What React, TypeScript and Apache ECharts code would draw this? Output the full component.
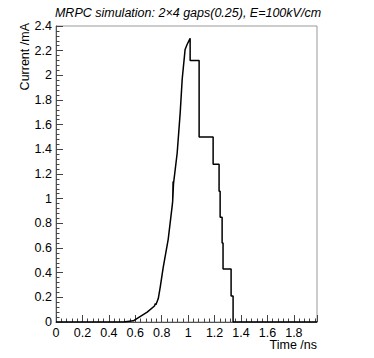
import React, { useEffect, useRef } from "react";
import * as echarts from "echarts";

// Time (ns) and current (mA) of the simulated MRPC signal
const timeNs: number[] = [
  0, 0.51, 0.585, 0.615, 0.69, 0.745, 0.752, 0.756, 0.774, 0.789, 0.811, 0.849, 0.879,
  0.883, 0.886, 0.884, 0.889, 0.917, 0.94, 0.955, 0.977, 0.992, 1.015,
  1.015, 1.083, 1.083, 1.189, 1.189, 1.234, 1.234, 1.242, 1.242, 1.257, 1.257,
  1.264, 1.264, 1.325, 1.325, 1.34, 1.34, 1.975,
];
const currentMA: number[] = [
  0, 0, 0.01, 0.03, 0.08, 0.13, 0.15, 0.14, 0.19, 0.285, 0.44, 0.67, 0.94,
  0.98, 1.14, 1.0, 1.12, 1.37, 1.7, 1.97, 2.21, 2.25, 2.3,
  2.12, 2.12, 1.5, 1.5, 1.28, 1.28, 1.06, 1.06, 0.85, 0.85, 0.64,
  0.64, 0.43, 0.43, 0.21, 0.21, 0, 0,
];

const titleText = "MRPC simulation: 2\u00d74 gaps(0.25), E=100kV/cm";
const xName = "Time /ns";
const yName = "Current /mA";

export default function App() {
  const ref = useRef<HTMLDivElement>(null);
  useEffect(() => {
    if (!ref.current) return;
    document.body.style.margin = "0";
    const chart = echarts.init(ref.current, undefined, { renderer: "svg" });
    const font = "'Liberation Sans', Arial, Helvetica, sans-serif";
    const data = timeNs.map((t, i) => [t, currentMA[i]]);
    chart.setOption({
      animation: false,
      backgroundColor: "#fff",
      grid: {
        left: 56,
        top: 26,
        right: 57,
        bottom: 36,
        containLabel: false,
        show: true,
        borderColor: "#999",
        borderWidth: 1,
        backgroundColor: "transparent",
      },
      xAxis: {
        type: "value",
        min: 0,
        max: 1.975,
        interval: 0.2,
        axisLine: { show: true, onZero: false, lineStyle: { color: "#555", width: 1 } },
        axisTick: { show: true, inside: true, length: 7, lineStyle: { color: "#444" } },
        minorTick: { show: true, splitNumber: 5, length: 3.5, lineStyle: { color: "#444" } },
        splitLine: { show: false },
        axisLabel: {
          margin: 4,
          color: "#000",
          fontSize: 12.5,
          fontFamily: font,
          showMaxLabel: false,
        },
      },
      yAxis: {
        type: "value",
        min: 0,
        max: 2.4,
        interval: 0.2,
        axisLine: { show: true, onZero: false, lineStyle: { color: "#555", width: 1 } },
        axisTick: { show: true, inside: true, length: 7, lineStyle: { color: "#444" } },
        minorTick: { show: true, splitNumber: 5, length: 3.5, lineStyle: { color: "#444" } },
        splitLine: { show: false },
        axisLabel: { margin: 4, color: "#000", fontSize: 12.5, fontFamily: font },
      },
      series: [
        {
          type: "line",
          data,
          showSymbol: false,
          symbol: "none",
          lineStyle: { color: "#000", width: 1.5 },
          z: 3,
        },
      ],
      graphic: [
        {
          type: "text",
          x: 188,
          y: 13,
          style: {
            text: titleText,
            fill: "#000",
            font: `italic 12.5px ${font}`,
            textAlign: "center",
            textVerticalAlign: "middle",
          },
        },
        {
          type: "text",
          x: 317,
          y: 345,
          style: {
            text: xName,
            fill: "#000",
            font: `12.5px ${font}`,
            textAlign: "right",
            textVerticalAlign: "middle",
          },
        },
        {
          type: "text",
          x: 25,
          y: 23,
          rotation: Math.PI / 2,
          style: {
            text: yName,
            fill: "#000",
            font: `12.5px ${font}`,
            textAlign: "right",
            textVerticalAlign: "middle",
          },
        },
      ],
    });
    return () => chart.dispose();
  }, []);
  return (
    <div
      ref={ref}
      style={{ position: "fixed", left: 0, top: 0, width: 374, height: 358 }}
    />
  );
}
